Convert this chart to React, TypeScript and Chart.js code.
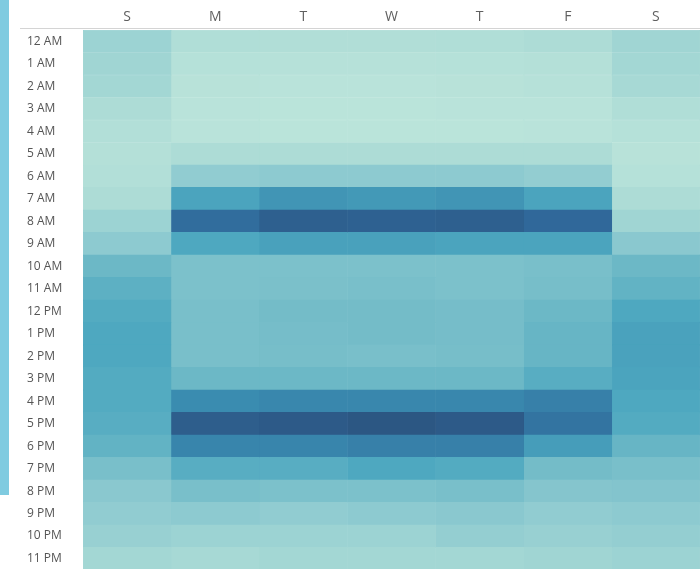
import React, { useEffect, useRef } from "react";
import { Chart, registerables } from "chart.js";

Chart.register(...registerables);

const days = ["S", "M", "T", "W", "T", "F", "S"];
const hours = [
  "12 AM", "1 AM", "2 AM", "3 AM", "4 AM", "5 AM", "6 AM", "7 AM", "8 AM", "9 AM", "10 AM", "11 AM",
  "12 PM", "1 PM", "2 PM", "3 PM", "4 PM", "5 PM", "6 PM", "7 PM", "8 PM", "9 PM", "10 PM", "11 PM",
];

// activity index per hour (rows) for each day column
const sunday = [22, 20, 18, 12, 8, 7, 8, 12, 22, 30, 48, 54, 58, 60, 60, 58, 58, 56, 52, 42, 32, 28, 24, 18];
const monday = [10, 6, 4, 3, 3, 12, 28, 62, 88, 60, 40, 40, 42, 42, 42, 48, 75, 96, 78, 56, 42, 30, 22, 16];
const tuesday = [9, 5, 3, 2, 2, 12, 30, 70, 95, 64, 40, 41, 45, 44, 43, 48, 77, 98, 78, 56, 40, 28, 22, 18];
const wednesday = [9, 5, 3, 2, 2, 12, 30, 68, 94, 64, 40, 42, 45, 45, 42, 48, 77, 100, 80, 60, 40, 30, 22, 18];
const thursday = [10, 6, 4, 3, 2, 12, 30, 70, 95, 62, 40, 40, 44, 44, 43, 48, 77, 98, 80, 58, 42, 32, 26, 18];
const friday = [12, 7, 5, 3, 3, 12, 27, 62, 90, 62, 42, 43, 48, 50, 50, 56, 80, 85, 66, 45, 35, 28, 24, 20];
const saturday = [20, 18, 16, 10, 6, 4, 6, 12, 20, 32, 48, 52, 60, 63, 63, 62, 60, 58, 50, 42, 36, 30, 26, 22];

const dayValues = [sunday, monday, tuesday, wednesday, thursday, friday, saturday];

const ramp: [number, [number, number, number]][] = [
  [0, [0xbd, 0xe5, 0xdb]],
  [0.15, [0xa9, 0xda, 0xd5]],
  [0.3, [0x8d, 0xca, 0xd0]],
  [0.45, [0x74, 0xbc, 0xc8]],
  [0.6, [0x4e, 0xa8, 0xc0]],
  [0.75, [0x3a, 0x8c, 0xb0]],
  [0.9, [0x30, 0x68, 0x9a]],
  [1.0, [0x2c, 0x57, 0x83]],
];

function colorFor(v: number): string {
  const t = Math.max(0, Math.min(1, v / 100));
  for (let i = 1; i < ramp.length; i++) {
    if (t <= ramp[i][0]) {
      const [t0, c0] = ramp[i - 1];
      const [t1, c1] = ramp[i];
      const f = (t - t0) / (t1 - t0);
      const c = c0.map((a, k) => Math.round(a + (c1[k] - a) * f));
      return `rgb(${c[0]},${c[1]},${c[2]})`;
    }
  }
  const c = ramp[ramp.length - 1][1];
  return `rgb(${c[0]},${c[1]},${c[2]})`;
}

const headerLine = {
  id: "headerLine",
  afterDraw(chart: any) {
    const ctx = chart.ctx;
    ctx.save();
    ctx.strokeStyle = "#d4d4d4";
    ctx.lineWidth = 1;
    ctx.beginPath();
    ctx.moveTo(20, chart.chartArea.top - 1.5);
    ctx.lineTo(chart.chartArea.right, chart.chartArea.top - 1.5);
    ctx.stroke();
    ctx.restore();
  },
};

export default function App() {
  const ref = useRef<HTMLCanvasElement | null>(null);

  useEffect(() => {
    if (!ref.current) return;
    const datasets = dayValues.map((vals, d) => {
      const col = vals.map((v) => colorFor(v));
      return {
        label: days[d],
        data: hours.map(() => [d, d + 1]),
        backgroundColor: col,
        borderColor: col,
        borderWidth: 0.5,
        borderSkipped: false,
        barPercentage: 1,
        categoryPercentage: 1,
        grouped: false,
      };
    });
    const chart = new Chart(ref.current, {
      type: "bar",
      data: { labels: hours, datasets: datasets as any },
      plugins: [headerLine],
      options: {
        indexAxis: "y",
        animation: false,
        responsive: false,
        maintainAspectRatio: false,
        layout: { padding: { left: 27, top: 0, right: 0, bottom: 0 } },
        plugins: { legend: { display: false }, tooltip: { enabled: false } },
        scales: {
          x: {
            type: "linear",
            position: "top",
            min: 0,
            max: 7,
            grid: { display: false },
            border: { display: false },
            afterBuildTicks: (scale: any) => {
              scale.ticks = days.map((_, i) => ({ value: i + 0.5 }));
            },
            afterFit: (scale: any) => {
              scale.height = 30;
            },
            ticks: {
              autoSkip: false,
              maxRotation: 0,
              padding: -3,
              color: "#5f5f5f",
              font: { family: "Open Sans", size: 14 },
              callback: (_v: any, i: number) => days[i],
            },
          },
          y: {
            type: "category",
            grid: { display: false },
            border: { display: false },
            afterFit: (scale: any) => {
              scale.width = 56;
            },
            ticks: {
              autoSkip: false,
              crossAlign: "far",
              padding: 0,
              color: "#555555",
              font: { family: "Open Sans", size: 12 },
            },
          },
        },
      },
    });
    return () => chart.destroy();
  }, []);

  return (
    <div style={{ position: "fixed", left: 0, top: 0, width: 700, height: 569, background: "#ffffff", overflow: "hidden" }}>
      <div style={{ position: "absolute", left: 0, top: 0, width: 9, height: 495, background: "#7fcbe0" }} />
      <canvas ref={ref} width={700} height={577} style={{ position: "absolute", left: 0, top: 0, width: 700, height: 577 }} />
    </div>
  );
}
